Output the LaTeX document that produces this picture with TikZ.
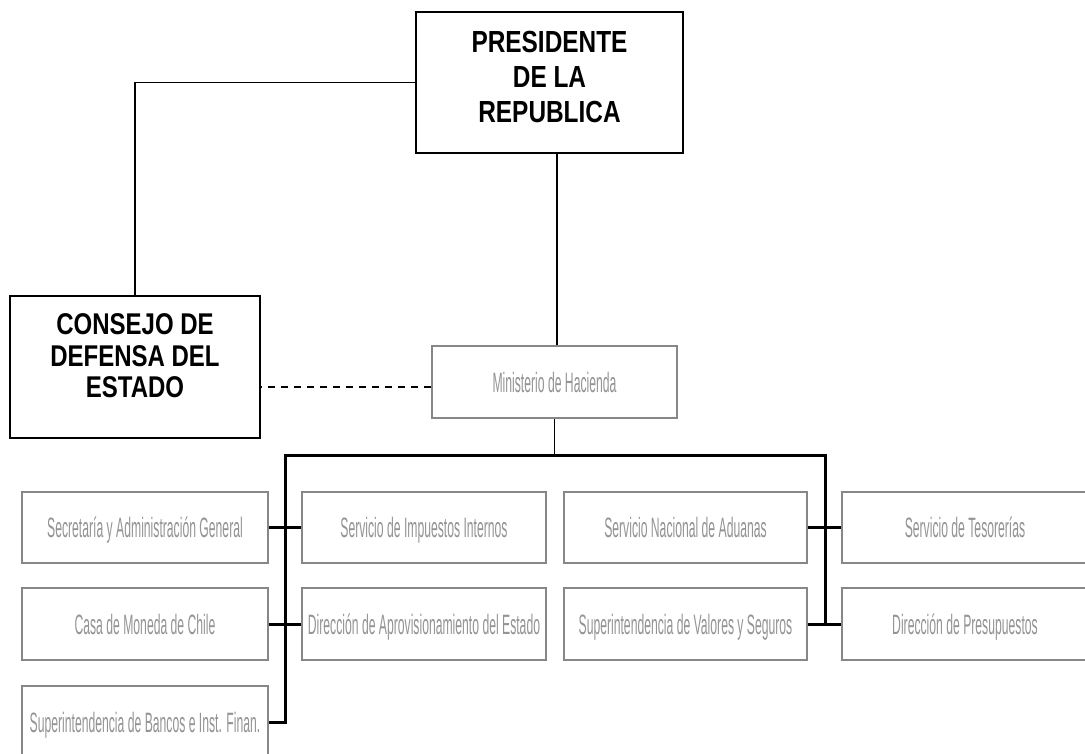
\documentclass[tikz,border=0pt]{standalone}
\usepackage{fontspec}
\newfontfamily\grayfont[FakeStretch=0.435]{Liberation Sans}
\newfontfamily\headfont[FakeStretch=0.80]{Liberation Sans}
\begin{document}
\begin{tikzpicture}[x=1pt,y=-1pt]
\tikzset{
  unit/.style={draw=black!47, line width=2pt, fill=white, inner sep=0pt,
    text=black!42, text height=20pt, text depth=0pt,
    font=\grayfont\fontsize{28pt}{32pt}\selectfont},
  head/.style={draw=black, line width=2pt, inner sep=0pt},
  headtxt/.style={align=center, inner sep=0pt, text=black},
  link/.style={line width=1.5pt},
  bus/.style={line width=3pt},
  dashlink/.style={line width=1.5pt, dash pattern=on 7pt off 6pt}
}
\clip (0,0) rectangle (1085,754);
\fill[white] (0,0) rectangle (1085,754);

% top boxes
\node[head, minimum width=267pt, minimum height=141pt] (pres) at (549.5,82.5) {};
\node[headtxt, font=\headfont\bfseries\fontsize{30.5pt}{35pt}\selectfont] (prestxt) at (549.5,77) {PRESIDENTE\\DE LA\\REPUBLICA};
\node[head, minimum width=250pt, minimum height=142pt] (cons) at (135,367) {};
\node[headtxt, font=\headfont\bfseries\fontsize{30pt}{31.5pt}\selectfont] (constxt) at (135,356) {CONSEJO DE\\DEFENSA DEL\\ESTADO};
\node[unit, minimum width=245pt, minimum height=72pt] (min) at (554.5,382) {Ministerio de Hacienda};

% units
\node[unit, minimum width=246pt, minimum height=71pt] (secre) at (145,527.5) {Secretaría y Administración General};
\node[unit, minimum width=244pt, minimum height=71pt] (sii) at (424,527.5) {Servicio de Impuestos Internos};
\node[unit, minimum width=243pt, minimum height=71pt] (adu) at (685.5,527.5) {Servicio Nacional de Aduanas};
\node[unit, minimum width=246pt, minimum height=71pt] (teso) at (965,527.5) {Servicio de Tesorerías};
\node[unit, minimum width=246pt, minimum height=72pt] (casa) at (145,624) {Casa de Moneda de Chile};
\node[unit, minimum width=244pt, minimum height=72pt] (dae) at (424,624) {Dirección de Aprovisionamiento del Estado};
\node[unit, minimum width=243pt, minimum height=72pt] (svs) at (685.5,624) {Superintendencia de Valores y Seguros};
\node[unit, minimum width=246pt, minimum height=72pt] (dipres) at (965,624) {Dirección de Presupuestos};
\node[unit, minimum width=246pt, minimum height=72pt] (sbif) at (145,722) {Superintendencia de Bancos e Inst. Finan.};

% connectors
\coordinate (bL) at (285,455);
\coordinate (bR) at (825,455);
\draw[link] (pres.west) -| (cons.north);
\draw[link] ([xshift=7.5pt]pres.south) -- ([xshift=2.5pt]min.north);
\draw[dashlink] ([yshift=-5pt]min.west) -- ([yshift=-5pt]min.west -| cons.east);
\draw[link] (min.south) -- (min.south |- bL);
\draw[bus] (sbif.east) -| (bL) -- (bR) |- (dipres.west);
\draw[bus] (secre.east) -- (sii.west);
\draw[bus] (casa.east) -- (dae.west);
\draw[bus] (adu.east) -- (teso.west);
\draw[bus] (svs.east) -- (dipres.west);
\end{tikzpicture}
\end{document}
